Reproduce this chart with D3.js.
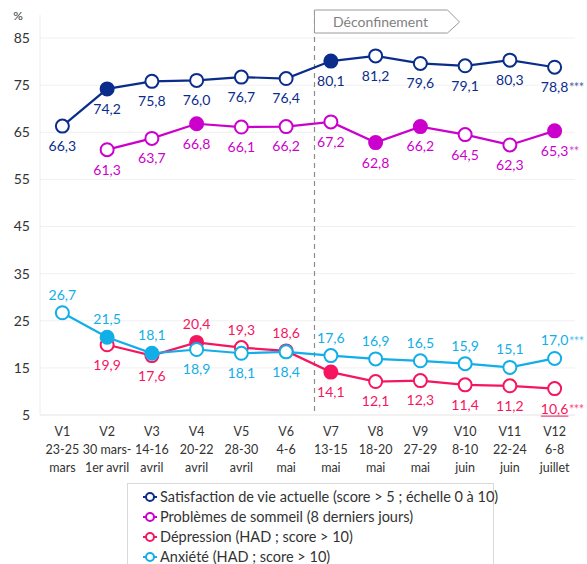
<!DOCTYPE html>
<html>
<head>
<meta charset="utf-8">
<style>
  body { margin: 0; background: #fff; }
  svg text { font-family: Lato, 'Open Sans', sans-serif; }
</style>
</head>
<body>
<svg width="587" height="564" viewBox="0 0 587 564"></svg>
<script src="https://d3js.org/d3.v7.min.js"></script>
<script>
const weeks = ['V1','V2','V3','V4','V5','V6','V7','V8','V9','V10','V11','V12'];
const datesA = ['23-25','30 mars-','14-16','20-22','28-30','4-6','13-15','18-20','27-29','8-10','22-24','6-8'];
const datesB = ['mars','1er avril','avril','avril','avril','mai','mai','mai','mai','juin','juin','juillet'];
const yTicks = [5, 15, 25, 35, 45, 55, 65, 75, 85];

const satisfaction = [66.3, 74.2, 75.8, 76.0, 76.7, 76.4, 80.1, 81.2, 79.6, 79.1, 80.3, 78.8];
const sommeil      = [null, 61.3, 63.7, 66.8, 66.1, 66.2, 67.2, 62.8, 66.2, 64.5, 62.3, 65.3];
const depression   = [null, 19.9, 17.6, 20.4, 19.3, 18.6, 14.1, 12.1, 12.3, 11.4, 11.2, 10.6];
const anxiete      = [26.7, 21.5, 18.1, 18.9, 18.1, 18.4, 17.6, 16.9, 16.5, 15.9, 15.1, 17.0];

// filled marker = significant change
const satisfactionFilled = [0,1,0,0,0,0,1,0,0,0,0,0];
const sommeilFilled      = [0,0,0,1,0,0,0,1,1,0,0,1];
const depressionFilled   = [0,0,0,1,0,0,1,0,0,0,0,0];
const anxieteFilled      = [0,1,1,0,0,0,0,0,0,0,0,0];

// label side: 1 = above, 0 = below
const depressionAbove = [0,0,0,1,1,1,0,0,0,0,0,0];
const anxieteAbove    = [1,1,1,0,0,0,1,1,1,1,1,1];

const series = [
  { name: 'Satisfaction de vie actuelle (score > 5 ; échelle 0 à 10)', color: '#0a2d8c',
    values: satisfaction, filled: satisfactionFilled, above: weeks.map(() => 0), stars: '***', underline: false },
  { name: 'Problèmes de sommeil (8 derniers jours)', color: '#cc00cc',
    values: sommeil, filled: sommeilFilled, above: weeks.map(() => 0), stars: '**', underline: false },
  { name: 'Dépression (HAD ; score > 10)', color: '#f5165f',
    values: depression, filled: depressionFilled, above: depressionAbove, stars: '***', underline: true },
  { name: 'Anxiété (HAD ; score > 10)', color: '#12aee8',
    values: anxiete, filled: anxieteFilled, above: anxieteAbove, stars: '***', underline: false },
];

const svg = d3.select('svg');
const plotLeft = 40, plotRight = 577, plotTop = 38, plotBottom = 415;

const x = d3.scaleBand().domain(weeks).range([plotLeft, plotRight]);
const y = d3.scaleLinear().domain([5, 85]).range([plotBottom, plotTop]);
const cx = w => x(w) + x.bandwidth() / 2;
const fmt = v => v.toFixed(1).replace('.', ',');

// grid
svg.append('g').selectAll('line').data(yTicks.filter(t => t > 5)).join('line')
  .attr('x1', plotLeft).attr('x2', plotRight - 2)
  .attr('y1', d => y(d)).attr('y2', d => y(d))
  .attr('stroke', '#f0f0f0');
svg.append('line')
  .attr('x1', plotLeft).attr('x2', plotRight - 2).attr('y1', plotBottom).attr('y2', plotBottom)
  .attr('stroke', '#e4e4e4');
svg.append('line')
  .attr('x1', plotLeft).attr('x2', plotLeft).attr('y1', 15).attr('y2', plotBottom)
  .attr('stroke', '#ececec');

// y labels
svg.append('g').selectAll('text').data(yTicks).join('text')
  .attr('x', 30).attr('y', d => y(d)).attr('dy', '0.35em')
  .attr('text-anchor', 'end').attr('font-size', '14px').attr('fill', '#333')
  .text(d => d);
svg.append('text').attr('x', 18).attr('y', 20).attr('text-anchor', 'middle')
  .attr('font-size', '12px').attr('fill', '#333').text('%');

// x labels
const xl = svg.append('g').selectAll('text').data(weeks).join('text')
  .attr('text-anchor', 'middle').attr('font-size', '12.5px').attr('fill', '#333');
xl.append('tspan').attr('x', d => cx(d)).attr('y', 436).text(d => d);
xl.append('tspan').attr('x', d => cx(d)).attr('y', 454).text((d, i) => datesA[i]);
xl.append('tspan').attr('x', d => cx(d)).attr('y', 472).text((d, i) => datesB[i]);

// déconfinement
const dx = x('V7') + 6;
svg.append('line')
  .attr('x1', dx).attr('x2', dx).attr('y1', 10).attr('y2', plotBottom)
  .attr('stroke', '#8c8c8c').attr('stroke-width', 1.2).attr('stroke-dasharray', '5,4');
svg.append('path')
  .attr('d', `M${dx},10 H${dx + 133} L${dx + 145},22 L${dx + 133},33 H${dx} Z`)
  .attr('fill', '#fff').attr('stroke', '#9a9a9a').attr('stroke-width', 1);
svg.append('text').attr('x', dx + 66).attr('y', 22).attr('dy', '0.35em')
  .attr('text-anchor', 'middle').attr('font-size', '14px').attr('fill', '#7f7f7f')
  .text('Déconfinement');

// series
const line = d3.line()
  .x(d => cx(d.w)).y(d => y(d.v));

series.forEach(s => {
  const pts = weeks.map((w, i) => ({ w, i, v: s.values[i], f: s.filled[i], a: s.above[i] }))
    .filter(d => d.v != null);
  const g = svg.append('g');
  g.append('path').datum(pts).attr('d', line)
    .attr('fill', 'none').attr('stroke', s.color).attr('stroke-width', 2.2);
  g.selectAll('circle').data(pts).join('circle')
    .attr('cx', d => cx(d.w)).attr('cy', d => y(d.v)).attr('r', 6.5)
    .attr('fill', d => d.f ? s.color : '#fff')
    .attr('stroke', s.color).attr('stroke-width', 2);
  s.labelData = pts;
});

// value labels on top
series.forEach(s => {
  const g = svg.append('g');
  s.labelData.forEach(d => {
    const ly = d.a ? y(d.v) - 18 : y(d.v) + 20;
    const t = g.append('text')
      .attr('x', cx(d.w)).attr('y', ly).attr('dy', '0.35em')
      .attr('text-anchor', 'middle').attr('font-size', '14px').attr('fill', s.color)
      .text(fmt(d.v));
    if (d.i === weeks.length - 1) {
      const wdt = t.node().getComputedTextLength();
      if (s.underline) {
        g.append('line')
          .attr('x1', cx(d.w) - wdt / 2).attr('x2', cx(d.w) + wdt / 2)
          .attr('y1', ly + 7.5).attr('y2', ly + 7.5)
          .attr('stroke', s.color).attr('stroke-width', 1);
      }
      g.append('text')
        .attr('x', cx(d.w) + wdt / 2 + 0.5).attr('y', ly).attr('dy', '0.4em')
        .attr('font-size', '13px').attr('letter-spacing', '-0.6px')
        .attr('fill', s.color).attr('opacity', 0.75)
        .text(s.stars);
    }
  });
});

// legend
const lg = svg.append('g');
lg.append('rect').attr('x', 127.5).attr('y', 483.5).attr('width', 366).attr('height', 90)
  .attr('fill', '#fff').attr('stroke', '#d9d9d9');
const items = lg.selectAll('g').data(series).join('g')
  .attr('transform', (d, i) => `translate(150,${497 + i * 20})`);
items.append('line').attr('x1', -7).attr('x2', 7)
  .attr('stroke', d => d.color).attr('stroke-width', 2);
items.append('circle').attr('r', 4).attr('fill', '#fff')
  .attr('stroke', d => d.color).attr('stroke-width', 2);
items.append('text').attr('x', 10).attr('dy', '0.35em')
  .attr('font-size', '14.5px').attr('fill', '#333').text(d => d.name);
</script>
</body>
</html>
